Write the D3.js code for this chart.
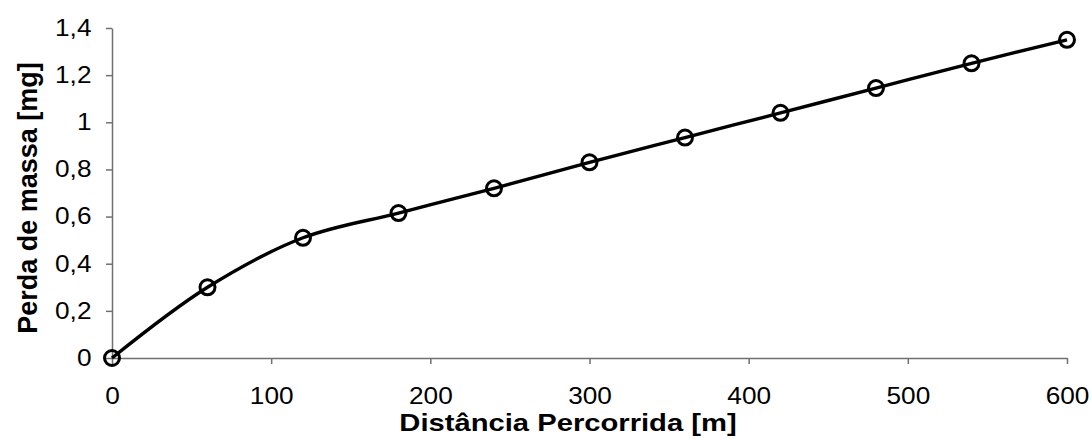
<!DOCTYPE html>
<html>
<head>
<meta charset="utf-8">
<script src="https://cdn.jsdelivr.net/npm/d3@7"></script>
<style>
  html, body { margin: 0; padding: 0; background: #fff; }
  svg { display: block; }
  text { font-family: Arial, "Liberation Sans", sans-serif; fill: #000; }
</style>
</head>
<body>
<svg id="chart" width="1092" height="438"></svg>
<script>
// Mass loss measured along the travelled distance
const distances = [0, 60, 120, 180, 240, 300, 360, 420, 480, 540, 600];
const massLoss  = [0, 0.30, 0.51, 0.615, 0.72, 0.83, 0.935, 1.04, 1.145, 1.25, 1.35];

const xTicks = [0, 100, 200, 300, 400, 500, 600];
const yTicks = [0, 0.2, 0.4, 0.6, 0.8, 1.0, 1.2, 1.4];

const xTitle = "Distância Percorrida [m]";
const yTitle = "Perda de massa [mg]";

const svg = d3.select("#chart");
const margin = { left: 112, right: 25, top: 28, bottom: 80 };
const W = 1092, H = 438;

const x = d3.scaleLinear().domain([0, 600]).range([margin.left, W - margin.right]);
const y = d3.scaleLinear().domain([0, 1.4]).range([H - margin.bottom, margin.top]);

const fmt = d => d3.format("~g")(d).replace(".", ",");
const axisColor = "#707070";
const stretch = 1.14;      // wide glyph proportions of the labels
const titleStretch = 1.27;

// x axis
const gx = svg.append("g")
  .attr("transform", `translate(0,${y(0)})`)
  .call(d3.axisBottom(x).tickValues(xTicks).tickSize(6).tickPadding(24).tickFormat(fmt).tickSizeOuter(0));
gx.select(".domain").attr("stroke", axisColor).attr("stroke-width", 1.5);
gx.selectAll(".tick line").attr("stroke", axisColor).attr("stroke-width", 1.5);
gx.selectAll(".tick text")
  .attr("font-size", 23)
  .attr("font-family", "Arial, 'Liberation Sans', sans-serif")
  .attr("transform", `scale(${stretch},1)`);

// y axis
const gy = svg.append("g")
  .attr("transform", `translate(${x(0)},0)`)
  .call(d3.axisLeft(y).tickValues(yTicks).tickSize(6).tickPadding(12).tickFormat(fmt).tickSizeOuter(0));
gy.select(".domain").attr("stroke", axisColor).attr("stroke-width", 1.5);
gy.selectAll(".tick line").attr("stroke", axisColor).attr("stroke-width", 1.5);
gy.selectAll(".tick text")
  .attr("font-size", 23)
  .attr("font-family", "Arial, 'Liberation Sans', sans-serif")
  .attr("transform", `scale(${stretch},1)`);

// axis titles
svg.append("text")
  .attr("transform", `translate(568,431) scale(${titleStretch},1)`)
  .attr("text-anchor", "middle")
  .attr("font-size", 23)
  .attr("font-weight", "bold")
  .text(xTitle);

svg.append("text")
  .attr("transform", `translate(27,198) rotate(-90)`)
  .attr("text-anchor", "middle")
  .attr("dy", "0.36em")
  .attr("font-size", 27)
  .attr("font-weight", "bold")
  .text(yTitle);

// smoothed data line
const pts = distances.map((d, i) => [d, massLoss[i]]);
const line = d3.line()
  .x(d => x(d[0]))
  .y(d => y(d[1]))
  .curve(d3.curveCatmullRom.alpha(0.5));

svg.append("path")
  .datum(pts)
  .attr("d", line)
  .attr("fill", "none")
  .attr("stroke", "#000")
  .attr("stroke-width", 3.4);

// circle markers
svg.append("g").selectAll("circle")
  .data(pts)
  .join("circle")
  .attr("cx", d => x(d[0]))
  .attr("cy", d => y(d[1]))
  .attr("r", 7.5)
  .attr("fill", "none")
  .attr("stroke", "#000")
  .attr("stroke-width", 3);
</script>
</body>
</html>
